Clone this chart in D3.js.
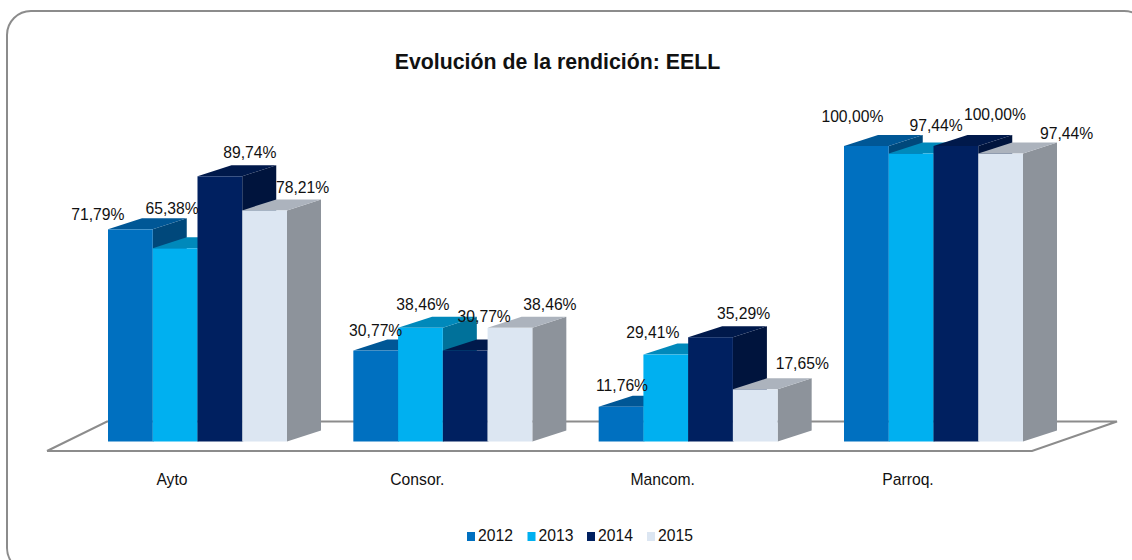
<!DOCTYPE html>
<html><head><meta charset="utf-8">
<style>html,body{margin:0;padding:0;background:#fff;overflow:hidden}svg{display:block}text{font-family:"Liberation Sans",Arial,sans-serif;fill:#111}</style>
<script src="https://cdn.jsdelivr.net/npm/d3@7/dist/d3.min.js"></script>
</head><body><script>
const title = "Evolución de la rendición: EELL";
const categories = ["Ayto","Consor.","Mancom.","Parroq."];
const years = ["2012","2013","2014","2015"];
const v2012 = [71.79,30.77,11.76,100.00];
const v2013 = [65.38,38.46,29.41,97.44];
const v2014 = [89.74,30.77,35.29,100.00];
const v2015 = [78.21,38.46,17.65,97.44];
const seriesValues = [v2012,v2013,v2014,v2015];
const colors = ["#0070C0","#00B0F0","#002060","#DCE6F2"];
const labelDx = [[-32.5,-3,30,38],[0,2.5,19,40],[1,-13,33,47],[-14,25,39,66]];
const labelDy = [[-15,-40,-24,-23],[-20,-23,-34,-23],[-21,-22,-24,-26],[-29,-28,-31,-20]];

const W=1132,H=560, depthX=34, depthY=-11, gap=33.17;
const svg=d3.select("body").append("svg").attr("width",W).attr("height",H);
svg.append("rect").attr("x",7).attr("y",11).attr("width",1141).attr("height",561).attr("rx",24)
  .attr("fill","#fff").attr("stroke","#8c8c8c").attr("stroke-width",2);
svg.append("text").attr("x",557.5).attr("y",69).attr("text-anchor","middle")
  .attr("font-size",21.3).attr("font-weight","bold").text(title);

const y=d3.scaleLinear().domain([0,100]).range([441.5,146]);
const x0=d3.scaleBand().domain(categories).range([108-gap,844+179+gap]);
const x1=d3.scaleBand().domain(years).range([gap,x0.bandwidth()-gap]);

svg.append("path").attr("d",d3.line()([[47,451],[1032,451],[1117,421.5],[107,421.5],[47,451]]))
  .attr("fill","#fff").attr("stroke","#8c8c8c").attr("stroke-width",2);

const mul=(c,k)=>{const r=d3.rgb(c);return d3.rgb(r.r*k,r.g*k,r.b*k).formatHex();};
const bw=x1.bandwidth();
categories.forEach((cat,ci)=>{
  years.forEach((yr,si)=>{
    const v=seriesValues[si][ci], l=x0(cat)+x1(yr), r=l+bw, t=y(v), b=y(0);
    const g=svg.append("g");
    g.append("path").attr("fill",mul(colors[si],0.64))
      .attr("d",d3.line()([[r,t],[r+depthX,t+depthY],[r+depthX,b+depthY],[r,b]])+"Z");
    g.append("path").attr("fill",mul(colors[si],0.78))
      .attr("d",d3.line()([[l,t],[l+depthX,t+depthY],[r+depthX,t+depthY],[r,t]])+"Z");
    g.append("rect").attr("x",l).attr("y",t).attr("width",bw).attr("height",b-t).attr("fill",colors[si]);
  });
});
const fmt=v=>v.toFixed(2).replace(".",",")+"%";
categories.forEach((cat,ci)=>{
  years.forEach((yr,si)=>{
    const v=seriesValues[si][ci];
    svg.append("text").attr("x",x0(cat)+x1(yr)+bw/2+labelDx[ci][si]).attr("y",y(v)+labelDy[ci][si])
      .attr("dy","0.35em").attr("text-anchor","middle").attr("font-size",15.7).text(fmt(v));
  });
  svg.append("text").attr("x",x0(cat)+gap+bw*2-25.5).attr("y",480).attr("dy","0.35em")
    .attr("text-anchor","middle").attr("font-size",15.7).text(cat);
});
const legendX=[467,527.5,587,647];
years.forEach((yr,i)=>{
  svg.append("rect").attr("x",legendX[i]).attr("y",532).attr("width",8).attr("height",9).attr("fill",colors[i]);
  svg.append("text").attr("x",legendX[i]+11).attr("y",536).attr("dy","0.35em").attr("font-size",15.7).text(yr);
});
</script></body></html>
